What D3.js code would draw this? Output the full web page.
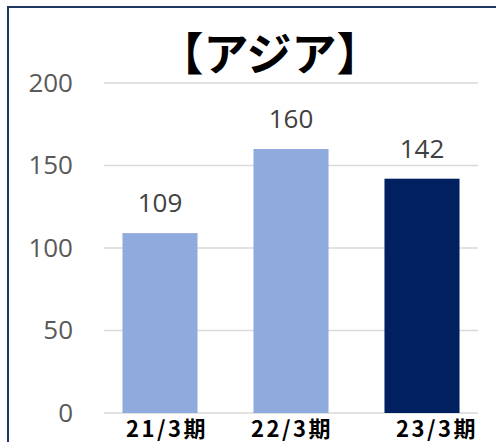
<!DOCTYPE html>
<html>
<head>
<meta charset="utf-8">
<script src="https://cdn.jsdelivr.net/npm/d3@7"></script>
<style>
  body { margin: 0; background: #fff; }
</style>
</head>
<body>
<div id="chart"></div>
<script>
// data
const periods = ["21/3期", "22/3期", "23/3期"];
const values = [109, 160, 142];
const barColors = ["#8FAADC", "#8FAADC", "#002060"];
const yTicks = [0, 50, 100, 150, 200];
const title = "【アジア】";

const fullWidth = 496;
const fullHeight = 442;
const margin = { top: 83, right: 18, bottom: 29, left: 104 };
const width = fullWidth - margin.left - margin.right;
const height = fullHeight - margin.top - margin.bottom;

const svg = d3.select("#chart").append("svg")
    .attr("width", fullWidth)
    .attr("height", fullHeight);

// outer frame (runs off the right and bottom edge like the reference)
svg.append("rect")
    .attr("x", 8)
    .attr("y", 7)
    .attr("width", 500)
    .attr("height", 450)
    .style("fill", "none")
    .style("stroke", "#1F3864")
    .style("stroke-width", 2);

const g = svg.append("g")
    .attr("transform", `translate(${margin.left},${margin.top})`);

const x = d3.scaleBand()
    .domain(periods)
    .range([0, width])
    .paddingInner(0.427)
    .paddingOuter(0.141);

const y = d3.scaleLinear().domain([0, 200]).range([height, 0]);

// gridlines
g.append("g")
    .selectAll("line")
    .data(yTicks)
    .join("line")
    .attr("x1", 0)
    .attr("x2", width)
    .attr("y1", d => y(d))
    .attr("y2", d => y(d))
    .style("stroke", "#D9D9D9")
    .style("stroke-width", 1.5);

// y axis labels
const yAxis = d3.axisLeft(y)
    .tickValues(yTicks)
    .tickSize(0)
    .tickPadding(31);

g.append("g")
    .call(yAxis)
    .call(s => s.select(".domain").remove())
    .selectAll("text")
    .style("font-family", "'Open Sans', 'Noto Sans', sans-serif")
    .style("font-size", "26px")
    .style("fill", "#595959");

// bars
g.selectAll(".bar")
    .data(values)
    .join("rect")
    .attr("class", "bar")
    .attr("x", (d, i) => x(periods[i]))
    .attr("y", d => y(d))
    .attr("width", x.bandwidth())
    .attr("height", d => height - y(d))
    .style("fill", (d, i) => barColors[i]);

// value labels
g.selectAll(".value-label")
    .data(values)
    .join("text")
    .attr("class", "value-label")
    .attr("x", (d, i) => x(periods[i]) + x.bandwidth() / 2)
    .attr("y", d => y(d) - 21)
    .attr("text-anchor", "middle")
    .style("font-family", "'Open Sans', 'Noto Sans', sans-serif")
    .style("font-size", "26px")
    .style("fill", "#404040")
    .text(d => d);

// category labels (the last one sits a bit to the right in the original)
const labelShift = [7, 1, 15];
g.selectAll(".cat-label")
    .data(periods)
    .join("text")
    .attr("class", "cat-label")
    .attr("x", (d, i) => x(d) + x.bandwidth() / 2 + labelShift[i])
    .attr("y", height + 24)
    .attr("text-anchor", "middle")
    .style("font-family", "'Noto Sans CJK JP', sans-serif")
    .style("font-weight", "bold")
    .style("font-size", "22px")
    .style("letter-spacing", "2.5px")
    .style("fill", "#000")
    .text(d => d);

// title
svg.append("text")
    .attr("x", 270)
    .attr("y", 51)
    .attr("text-anchor", "middle")
    .attr("dominant-baseline", "central")
    .style("font-family", "'Noto Sans CJK JP', sans-serif")
    .style("font-weight", "bold")
    .style("font-size", "45px")
    .style("fill", "#000")
    .text(title);
</script>
</body>
</html>
